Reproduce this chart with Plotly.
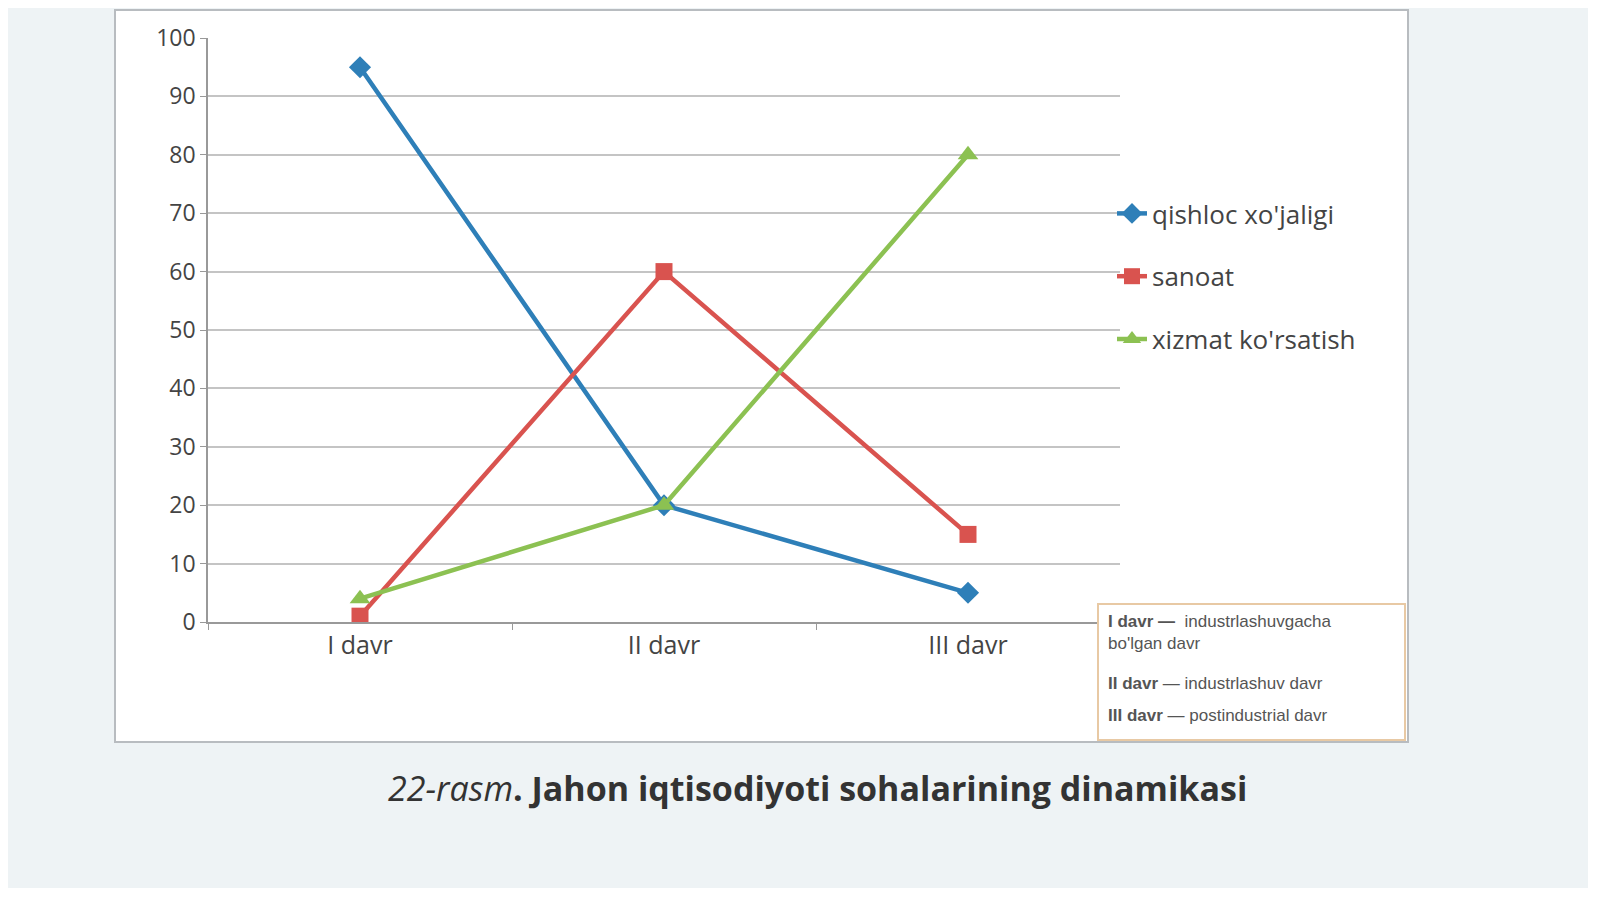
import plotly.graph_objects as go

categories = ["I davr", "II davr", "III davr"]
qishloq = [95, 20, 5]
sanoat = [1, 60, 15]
xizmat = [4, 20, 80]
y_ticks = [0, 10, 20, 30, 40, 50, 60, 70, 80, 90, 100]

W, H = 1580, 880
OFF = 8  # page body margin
L, T, PW, PH = 208 - OFF, 38 - OFF, 912, 584


def px(x):
    return (x - OFF - L) / PW


def py(y):
    return 1 - (y - OFF - T) / PH


fig = go.Figure()
series = [
    ("qishloc xo'jaligi", qishloq, "#2e7fb8", "diamond", 17),
    ("sanoat", sanoat, "#d9534f", "square", 17),
    ("xizmat ko'rsatish", xizmat, "#8cc152", "triangle-up", 18),
]
for name, vals, color, sym, size in series:
    fig.add_trace(go.Scatter(
        x=categories, y=vals, name=name, mode="lines+markers", legendgroup=name,
        line=dict(color=color, width=4.5),
        marker=dict(symbol=sym, size=size, color=color),
    ))

txt = dict(family="Liberation Sans", size=17, color="#555")
fig.update_layout(
    width=W, height=H,
    paper_bgcolor="#eef3f5",
    plot_bgcolor="white",
    margin=dict(l=L, r=W - L - PW, t=T, b=H - T - PH),
    showlegend=True,
    legend=dict(x=px(1112), y=py(190), xanchor="left", yanchor="top",
                bgcolor="rgba(0,0,0,0)", tracegroupgap=26,
                font=dict(family="Open Sans", size=26, color="#444")),
    font=dict(family="Open Sans", color="#444"),
    shapes=[
        dict(type="rect", xref="paper", yref="paper",
             x0=px(115), x1=px(1408), y0=py(742), y1=py(10),
             fillcolor="white", line=dict(color="#b8bcc0", width=2), layer="below"),
        dict(type="rect", xref="paper", yref="paper",
             x0=px(1098), x1=px(1405), y0=py(740), y1=py(604),
             fillcolor="white", line=dict(color="#e8c9a4", width=2)),
    ],
    annotations=[
        dict(xref="paper", yref="paper", x=px(1106), y=py(610), xanchor="left", yanchor="top",
             align="left", showarrow=False, font=txt,
             text="<b>I davr —</b>  industrlashuvgacha<br>bo'lgan davr"),
        dict(xref="paper", yref="paper", x=px(1106), y=py(672), xanchor="left", yanchor="top",
             align="left", showarrow=False, font=txt,
             text="<b>II davr</b> — industrlashuv davr"),
        dict(xref="paper", yref="paper", x=px(1106), y=py(704), xanchor="left", yanchor="top",
             align="left", showarrow=False, font=txt,
             text="<b>III davr</b> — postindustrial davr"),
        dict(xref="paper", yref="paper", x=px(817), y=py(788), xanchor="center", yanchor="middle",
             showarrow=False, font=dict(family="Open Sans", size=34, color="#333"),
             text="<i>22-rasm</i><b>. Jahon iqtisodiyoti sohalarining dinamikasi</b>"),
    ],
)
fig.update_xaxes(range=[-0.5, 2.5],
                 showline=True, linecolor="#999", linewidth=1.5,
                 ticks="outside", tickcolor="#999", ticklen=6,
                 tickfont=dict(size=25, color="#444"), showgrid=False,
                 tickson="boundaries")
fig.update_yaxes(range=[0, 100], tickvals=y_ticks,
                 showgrid=True, gridcolor="#c4c4c4", gridwidth=1.5,
                 showline=True, linecolor="#999", linewidth=1.5,
                 ticks="outside", tickcolor="#999", ticklen=6,
                 tickfont=dict(size=23, color="#444"), zeroline=False)

fig.write_html("out.html")
